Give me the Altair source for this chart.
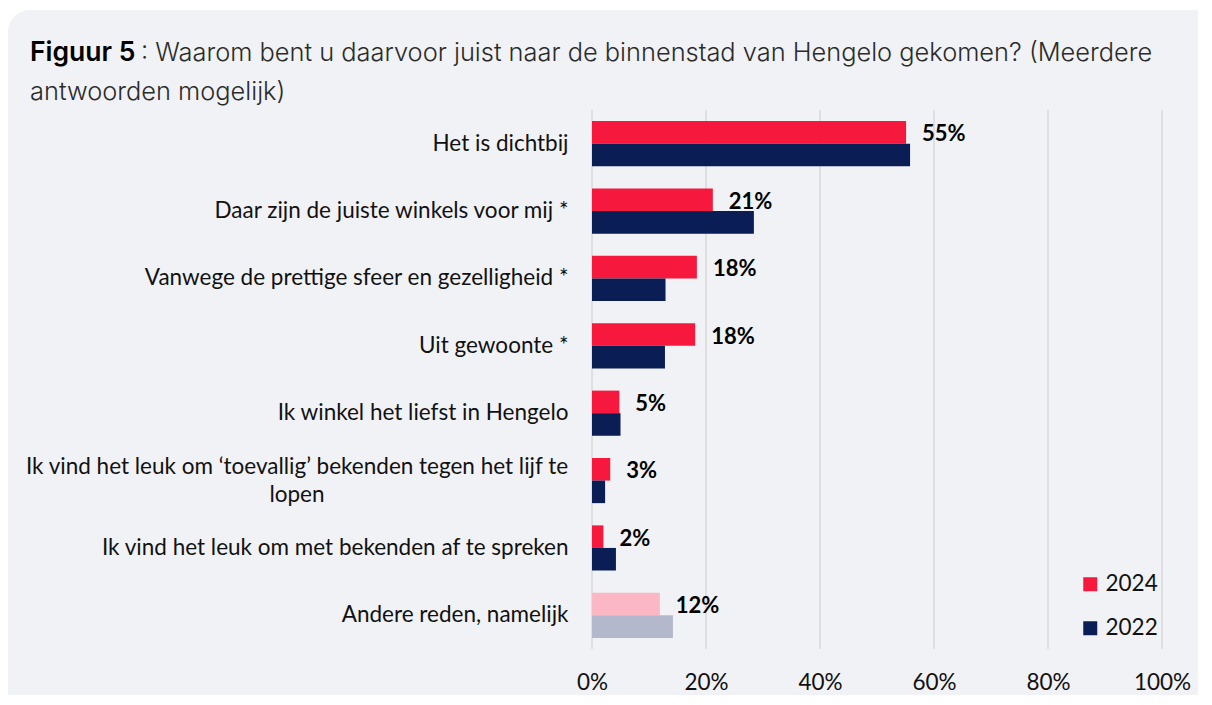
import altair as alt
import pandas as pd

categories = [
    "Het is dichtbij",
    "Daar zijn de juiste winkels voor mij *",
    "Vanwege de prettige sfeer en gezelligheid *",
    "Uit gewoonte *",
    "Ik winkel het liefst in Hengelo",
    "Ik vind het leuk om ‘toevallig’ bekenden tegen het lijf te lopen",
    "Ik vind het leuk om met bekenden af te spreken",
    "Andere reden, namelijk",
]
v2024 = [55.1, 21.2, 18.4, 18.1, 4.8, 3.2, 2.0, 11.9]
v2022 = [55.8, 28.4, 12.9, 12.8, 5.0, 2.3, 4.2, 14.2]
labels2024 = ["55%", "21%", "18%", "18%", "5%", "3%", "2%", "12%"]
years = ["2024", "2022"]
x_ticks = [0, 20, 40, 60, 80, 100]
wrapped_label = "Ik vind het leuk om ‘toevallig’ bekenden tegen het lijf te|lopen"

rows = []
for i, c in enumerate(categories):
    light = c == "Andere reden, namelijk"
    rows.append({"categorie": c, "jaar": "2024", "waarde": v2024[i],
                 "groep": "2024 licht" if light else "2024", "label": labels2024[i]})
    rows.append({"categorie": c, "jaar": "2022", "waarde": v2022[i],
                 "groep": "2022 licht" if light else "2022", "label": ""})
df = pd.DataFrame(rows)
grid_df = pd.DataFrame({"tick": x_ticks})

FONT = "Lato"
FS = 22.5
W, H = 570, 539

color_scale = alt.Scale(
    domain=["2024", "2022", "2024 licht", "2022 licht"],
    range=["#F7183D", "#0B1D55", "#FBB7C3", "#B4B8CC"],
)
x_scale = alt.Scale(domain=[0, 100], nice=False)
x_axis = alt.Axis(
    title=None, values=x_ticks, labelExpr="datum.value + '%'",
    ticks=False, domain=False, grid=False, zindex=1, labelFlush=False, labelOverlap=False,
    labelFontSize=FS, labelFont=FONT, labelColor="#111111", labelPadding=22,
)

y_enc = alt.Y(
    "categorie:N",
    sort=categories,
    scale=alt.Scale(paddingInner=0.33, paddingOuter=0.165),
    axis=alt.Axis(
        title=None, ticks=False, domain=False, grid=False, labelPadding=24, zindex=1,
        labelFontSize=FS, labelFont=FONT, labelColor="#111111", labelLimit=700,
        labelExpr="indexof(datum.label, 'toevallig') >= 0 ? '' : datum.label",
    ),
)
yoff = alt.YOffset("jaar:N", sort=years, scale=alt.Scale(paddingInner=0, paddingOuter=0))

card = alt.Chart(alt.Data(values=[{}])).mark_rect(
    color="#F1F2F6", cornerRadius=22
).encode(
    x=alt.value(-584), x2=alt.value(W + 80),
    y=alt.value(-100), y2=alt.value(H + 120),
)

grid = alt.Chart(grid_df).mark_rule(color="#D9D9D9", strokeWidth=1.5).encode(
    x=alt.X("tick:Q", scale=x_scale, axis=x_axis),
    y=alt.value(0), y2=alt.value(H),
)

bars = alt.Chart(df).mark_bar().encode(
    y=y_enc,
    yOffset=yoff,
    x=alt.X("waarde:Q", scale=x_scale, axis=x_axis),
    color=alt.Color(
        "groep:N", scale=color_scale,
        legend=alt.Legend(
            values=["2024", "2022"], title=None, orient="none", direction="vertical",
            legendX=487, legendY=463, symbolType="square", symbolSize=196,
            symbolStrokeWidth=0, labelFontSize=FS, labelFont=FONT, labelColor="#111111",
            rowPadding=21, labelOffset=4, padding=0,
        ),
    ),
)

texts = alt.Chart(df).transform_filter("datum.jaar == '2024'").mark_text(
    align="left", baseline="middle", dx=16, dy=2, fontSize=22, font=FONT,
    fontWeight="bold", color="#000000",
).encode(
    y=alt.Y("categorie:N", sort=categories),
    yOffset=alt.YOffset("jaar:N", sort=years),
    x=alt.X("waarde:Q", scale=x_scale, axis=x_axis),
    text="label:N",
)

wrap_text = alt.Chart(alt.Data(values=[{"categorie": categories[5], "t": wrapped_label}])).mark_text(
    align="center", baseline="middle", fontSize=FS, font=FONT, color="#111111",
    lineBreak="|", lineHeight=28, dy=-14,
).encode(
    y=alt.Y("categorie:N", sort=categories),
    x=alt.value(-295),
    text="t:N",
)

TFS = 25.4
title_a = alt.Chart(alt.Data(values=[{}])).mark_text(
    align="left", baseline="middle", fontSize=26.5, font="Inter", fontWeight=600,
    color="#000000",
).encode(x=alt.value(-562), y=alt.value(-57), text=alt.value("Figuur 5"))

title_b = alt.Chart(alt.Data(values=[{}])).mark_text(
    align="left", baseline="middle", fontSize=TFS, font="Inter", fontWeight=300, color="#2B2B2B",
).encode(x=alt.value(-451), y=alt.value(-57),
         text=alt.value(": Waarom bent u daarvoor juist naar de binnenstad van Hengelo gekomen? (Meerdere"))

title_c = alt.Chart(alt.Data(values=[{}])).mark_text(
    align="left", baseline="middle", fontSize=TFS, font="Inter", fontWeight=300, color="#2B2B2B",
).encode(x=alt.value(-562), y=alt.value(-18), text=alt.value("antwoorden mogelijk)"))

chart = alt.layer(card, grid, bars, texts, wrap_text, title_a, title_b, title_c).properties(
    width=W, height=H,
    autosize=alt.AutoSizeParams(type="none"),
    padding={"left": 584, "top": 102, "right": 36, "bottom": 46},
    background="#FFFFFF",
).configure_view(stroke=None)

chart.save("out.html", embed_options={"renderer": "svg", "actions": False})
